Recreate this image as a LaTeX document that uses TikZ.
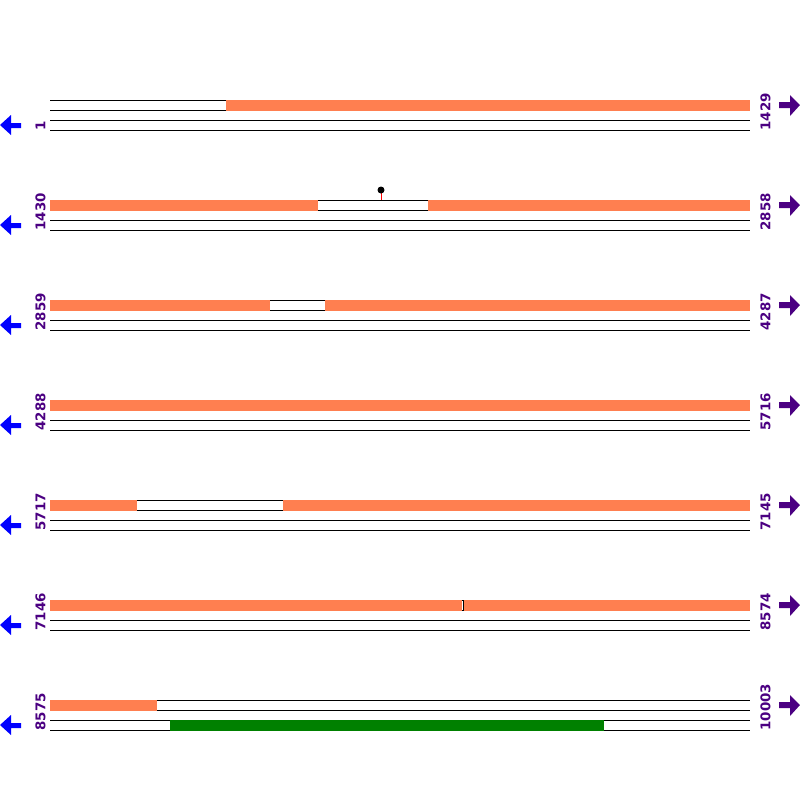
\documentclass[tikz,border=0pt]{standalone}
\usepackage{fontspec}
\setsansfont{DejaVu Sans}
\usetikzlibrary{positioning}
\definecolor{featorange}{RGB}{255,127,80}
\definecolor{featgreen}{RGB}{0,128,0}
\definecolor{labelpurple}{RGB}{75,0,130}

\begin{document}
\begin{tikzpicture}[
        x=0.5pt, y=-0.5pt,
        strand/.style={line width=0.5pt, black},
        feat/.style={fill=featorange, draw=none},
        cds/.style={fill=featgreen, draw=none},
        poslabel/.style={rotate=90, anchor=west, inner sep=0pt, text=labelpurple, font=\sffamily\bfseries\fontsize{6.7}{8}\selectfont},
        larrow/.style={fill=blue, draw=none},
        rarrow/.style={fill=labelpurple, draw=none}
    ]
    \useasboundingbox (0,0) rectangle (800,800);

    % strands, position labels and direction arrows
    \foreach \r/\first/\last in {0/1/1429, 1/1430/2858, 2/2859/4287, 3/4288/5716, 4/5717/7145, 5/7146/8574, 6/8575/10003} {
        \pgfmathsetmacro{\yy}{100+100*\r}
        \foreach \dy in {0,10,20,30}
            \draw[strand] (50,\yy+\dy) -- (750,\yy+\dy);
        \node[poslabel] (start\r) at (40.5,\yy+31) {\first};
        \node[poslabel] (end\r) at (765.5,\yy+31) {\last};
        \fill[larrow] (0,\yy+25) -- (11,\yy+15) -- (11,\yy+23) -- (21,\yy+23)
            -- (21,\yy+28) -- (11,\yy+28) -- (11,\yy+35) -- cycle;
        \fill[rarrow] (800,\yy+5) -- (790,\yy-5) -- (790,\yy+2) -- (779,\yy+2)
            -- (779,\yy+8) -- (790,\yy+8) -- (790,\yy+16) -- cycle;
    }

    % features on the top strand
    \foreach \yy/\a/\b in {100/226/750, 200/50/318, 200/428/750, 300/50/270, 300/325/750,
                           400/50/750, 500/50/137, 500/283/750, 600/50/462, 600/463.5/750, 700/50/157}
        \fill[feat] (\a,\yy-0.5) rectangle (\b,\yy+10.5);
    \draw[strand] (463,600) -- (463,610);

    % feature on the bottom strand
    \fill[cds] (170,719.5) rectangle (604,730.5);

    % site marker
    \draw[red, line width=0.5pt] (381,200) -- (381,190);
    \fill[black] (381,190) circle (3.5);

\end{tikzpicture}
\end{document}
